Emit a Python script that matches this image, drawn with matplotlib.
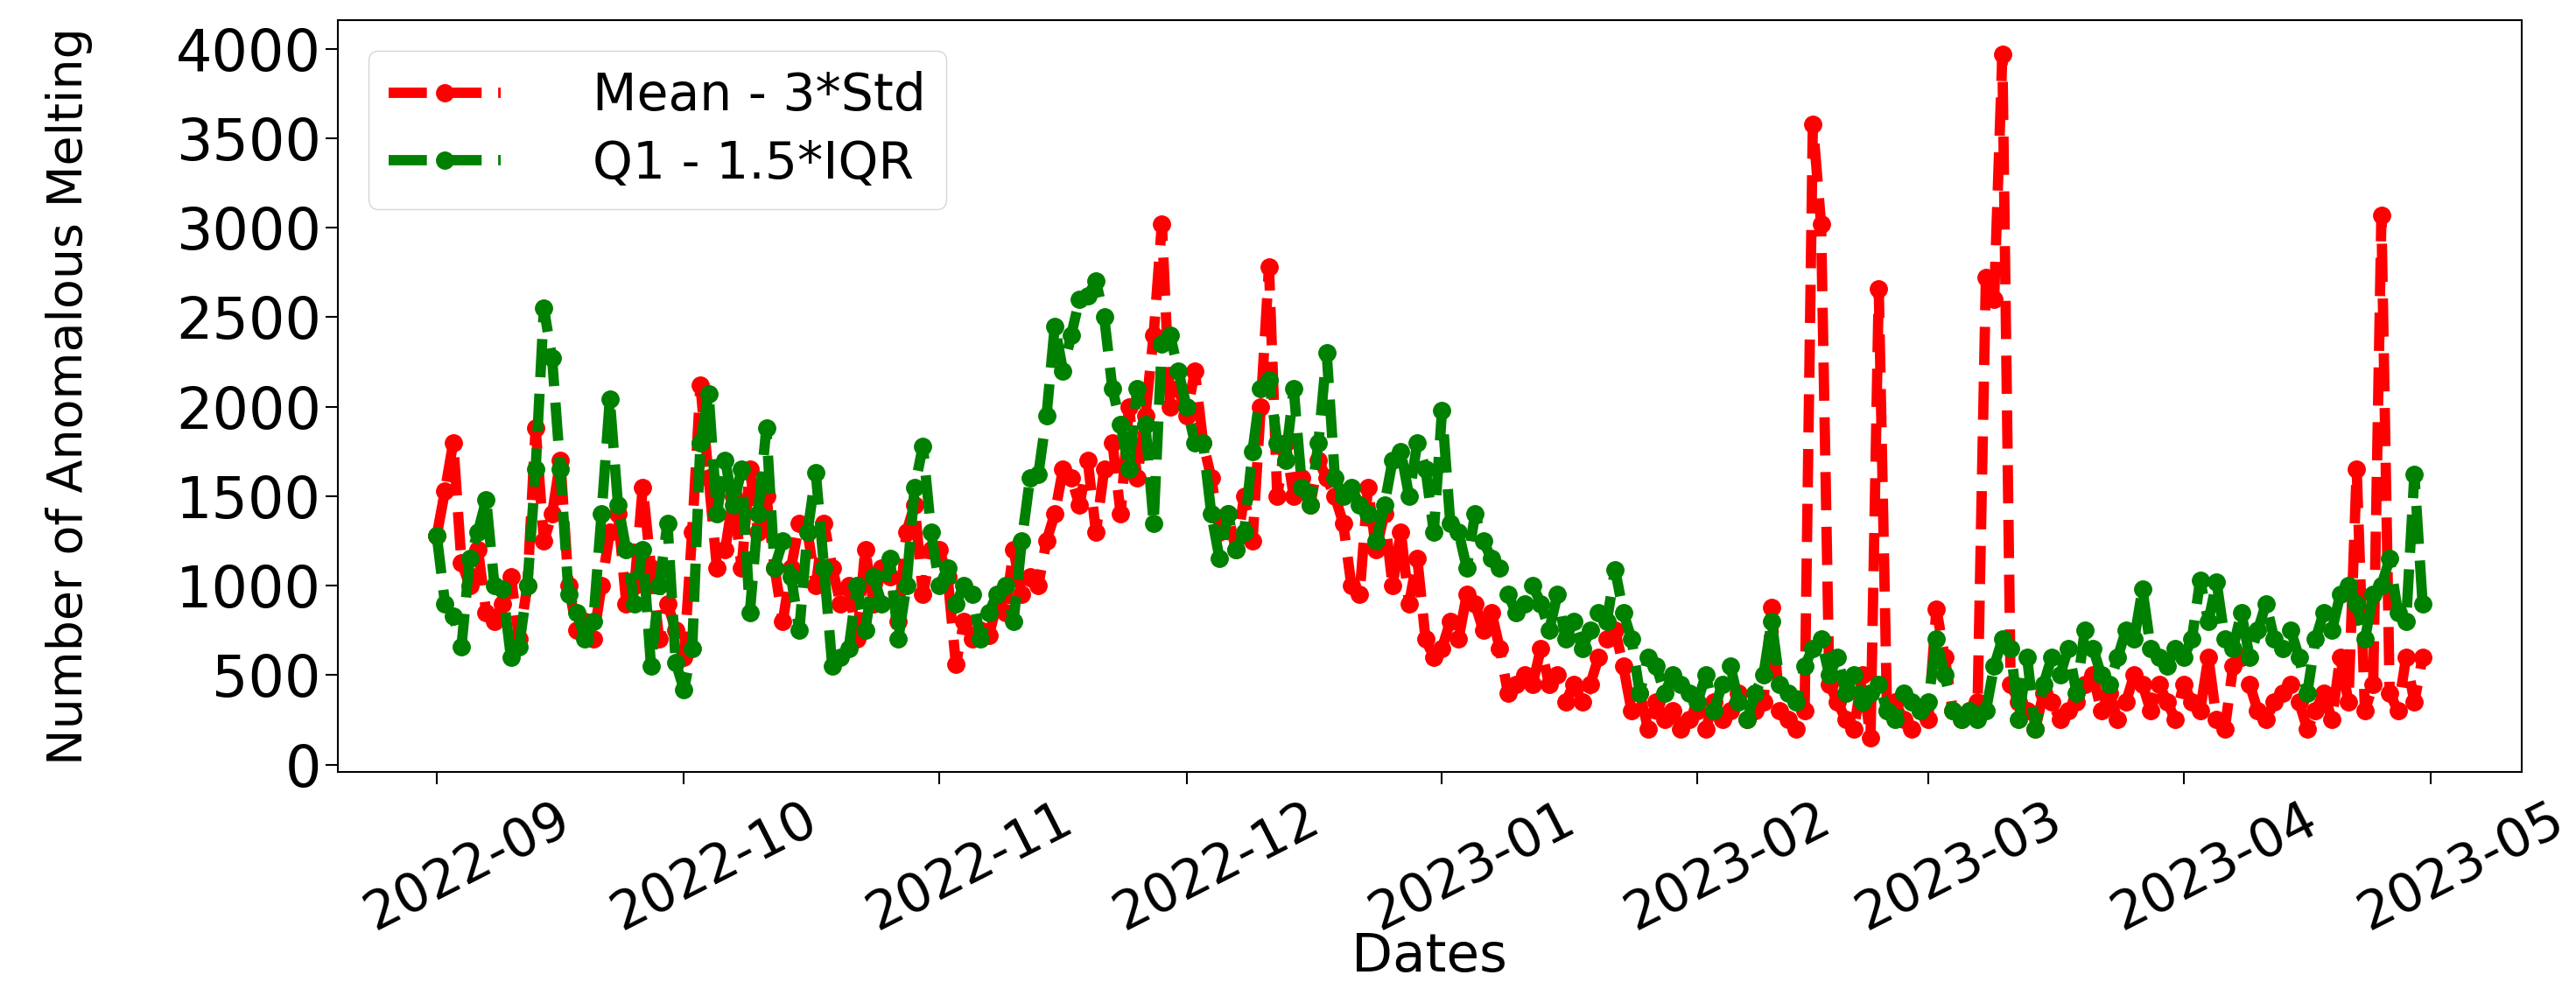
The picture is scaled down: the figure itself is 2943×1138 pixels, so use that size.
import matplotlib
matplotlib.use("Agg")
import matplotlib.pyplot as plt
import matplotlib.dates as mdates
import matplotlib.transforms as mtransforms
import pandas as pd

# daily values, 2022-09-01 .. 2023-04-30
dates = pd.date_range("2022-09-01", "2023-04-30", freq="D")

# Mean - 3*Std
mean_sep = [1280, 1530, 1800, 1130, 1000, 1200, 850, 800, 900, 1050,
            700, 1000, 1880, 1250, 1400, 1700, 1000, 750, 800, 700,
            1000, 1300, 1400, 900, 1000, 1550, 1100, 700, 900, 750]
mean_oct = [600, 1300, 2120, 1600, 1100, 1200, 1500, 1100, 1650, 1300,
            1500, 1100, 800, 1100, 1350, 1300, 1000, 1350, 1100, 900,
            1000, 700, 1200, 900, 1100, 1050, 800, 1300, 1450, 950, 1200]
mean_nov = [1200, 1050, 560, 800, 700, 750, 720, 900, 850, 1200,
            950, 1050, 1000, 1250, 1400, 1650, 1600, 1450, 1700, 1300,
            1650, 1800, 1400, 2000, 1600, 1950, 2400, 3020, 2000, 2100]
mean_dec = [1950, 2200, 1800, 1600, 1300, 1400, 1200, 1500, 1250, 2000,
            2780, 1500, 1800, 1500, 1600, 1450, 1700, 1600, 1500, 1350,
            1000, 950, 1550, 1200, 1400, 1000, 1300, 900, 1150, 700, 600]
mean_jan = [650, 800, 700, 950, 900, 750, 850, 650, 400, 450,
            500, 450, 650, 450, 500, 350, 450, 350, 450, 600,
            700, 750, 550, 300, 400, 200, 350, 250, 300, 200, 250]
mean_feb = [300, 200, 350, 250, 300, 400, 250, 300, 350, 880,
            300, 250, 200, 300, 3580, 3020, 450, 350, 250, 200,
            500, 150, 2660, 300, 350, 250, 200, 300]
mean_mar = [250, 870, 600, 300, 250, 300, 350, 2720, 2600, 3970,
            450, 350, 300, 200, 400, 350, 250, 300, 350, 450,
            500, 300, 400, 250, 350, 500, 450, 300, 450, 350, 250]
mean_apr = [450, 350, 300, 600, 250, 200, 550, 600, 450, 300,
            250, 350, 400, 450, 350, 200, 300, 400, 250, 600,
            350, 1650, 300, 450, 3070, 400, 300, 600, 350, 600]

# Q1 - 1.5*IQR
q1_sep = [1280, 900, 830, 660, 1150, 1300, 1480, 1000, 980, 600,
          660, 1000, 1650, 2550, 2270, 1650, 950, 850, 700, 800,
          1400, 2040, 1450, 1200, 900, 1200, 550, 1000, 1350, 570]
q1_oct = [420, 650, 1800, 2070, 1400, 1700, 1450, 1650, 850, 1400,
          1880, 1100, 1250, 1050, 750, 1300, 1630, 1100, 550, 600,
          650, 1000, 750, 1050, 900, 1150, 700, 1000, 1550, 1780, 1300]
q1_nov = [1000, 1100, 900, 1000, 950, 700, 850, 950, 1000, 800,
          1250, 1600, 1620, 1950, 2450, 2200, 2400, 2600, 2620, 2700,
          2500, 2100, 1900, 1650, 2100, 1900, 1350, 2350, 2400, 2200]
q1_dec = [2000, 1800, 1800, 1400, 1150, 1400, 1200, 1300, 1750, 2100,
          2150, 1800, 1700, 2100, 1550, 1450, 1800, 2300, 1600, 1500,
          1550, 1450, 1400, 1250, 1450, 1700, 1750, 1500, 1800, 1650, 1300]
q1_jan = [1980, 1350, 1300, 1100, 1400, 1250, 1150, 1100, 950, 850,
          900, 1000, 900, 750, 950, 700, 800, 650, 750, 850,
          800, 1090, 850, 700, 400, 600, 550, 400, 500, 450, 400]
q1_feb = [350, 500, 300, 450, 550, 350, 250, 400, 500, 800,
          450, 400, 350, 550, 650, 700, 500, 600, 400, 500,
          350, 400, 450, 300, 250, 400, 350, 300]
q1_mar = [350, 700, 500, 300, 250, 300, 250, 300, 550, 700,
          650, 250, 600, 200, 450, 600, 500, 650, 400, 750,
          650, 500, 450, 600, 750, 700, 980, 650, 600, 550, 650]
q1_apr = [600, 700, 1030, 800, 1020, 700, 650, 850, 600, 750,
          900, 700, 650, 750, 600, 400, 700, 850, 750, 950,
          1000, 900, 700, 950, 1000, 1150, 850, 800, 1620, 900]

mean_3std = mean_sep + mean_oct + mean_nov + mean_dec + mean_jan + mean_feb + mean_mar + mean_apr
q1_iqr = q1_sep + q1_oct + q1_nov + q1_dec + q1_jan + q1_feb + q1_mar + q1_apr

fig = plt.figure(figsize=(29.43, 11.38), dpi=100)
ax = fig.add_axes([0.131, 0.225, 0.848, 0.755])

ax.plot(dates, mean_3std, color="red", linestyle="--", marker="o",
        linewidth=8.5, markersize=14, label="Mean - 3*Std")
ax.plot(dates, q1_iqr, color="green", linestyle="--", marker="o",
        linewidth=8.5, markersize=14, label="Q1 - 1.5*IQR")

ax.xaxis.set_major_locator(mdates.MonthLocator())
ax.xaxis.set_major_formatter(mdates.DateFormatter("%Y-%m"))
ax.set_yticks(range(0, 4001, 500))
ax.tick_params(axis="y", labelsize=47, length=10, width=1.5)
ax.tick_params(axis="x", labelsize=44, length=10, width=1.5)

# rotated date labels, nudged right/down like the original
shift = mtransforms.ScaledTranslation(0.35, -0.06, fig.dpi_scale_trans)
for lbl in ax.get_xticklabels():
    lbl.set_rotation(27)
    lbl.set_transform(lbl.get_transform() + shift)

for s in ax.spines.values():
    s.set_linewidth(1.5)

ax.set_xlabel("Dates", fontsize=44, labelpad=-8)
ax.set_ylabel("Number of Anomalous Melting", fontsize=40, labelpad=68)
ax.legend(loc="upper left", fontsize=42, borderaxespad=0.6,
          handletextpad=1.8, labelspacing=0.35, handlelength=2.2)

fig.savefig("out.png", dpi=100)
